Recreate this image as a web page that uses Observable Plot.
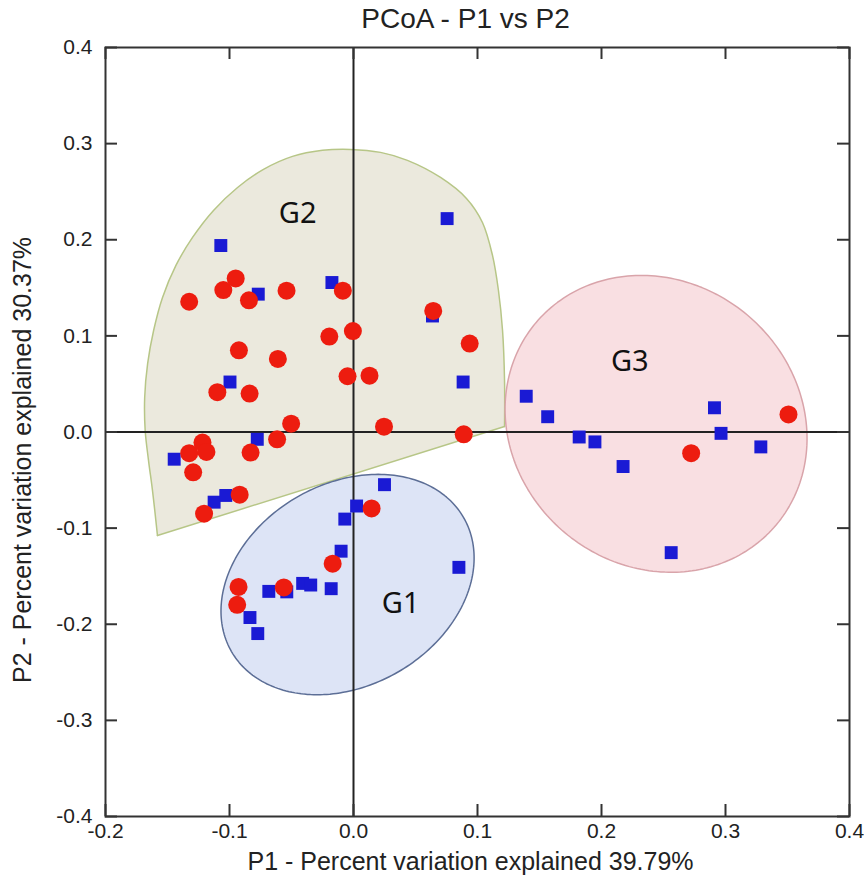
<!DOCTYPE html>
<html>
<head>
<meta charset="utf-8">
<script src="https://cdn.jsdelivr.net/npm/d3@7"></script>
<script src="https://cdn.jsdelivr.net/npm/@observablehq/plot@0.6"></script>
<style>
  html, body { margin: 0; padding: 0; background: #fff; }
  #chart svg { display: block; }
</style>
</head>
<body>
<div id="chart"></div>
<script>
// ---- Data ----
const blueX = [-0.107, 0.0755, -0.0768, -0.0174, 0.0637, 0.0884, -0.0996, -0.0776, -0.1446, -0.1124, -0.103,
               0.0250, 0.0025, -0.0070, -0.0100, 0.0850, -0.0410, -0.0345, -0.0180, -0.0683, -0.0538, -0.0835, -0.0772,
               0.1393, 0.1566, 0.1820, 0.1947, 0.2174, 0.2911, 0.2964, 0.3285, 0.2562];
const blueY = [0.194, 0.222, 0.1434, 0.1555, 0.1207, 0.052, 0.052, -0.0076, -0.0283, -0.073, -0.066,
               -0.0548, -0.0770, -0.0906, -0.1240, -0.1408, -0.1575, -0.1592, -0.1630, -0.1658, -0.1663, -0.1930, -0.2097,
               0.0372, 0.0159, -0.0052, -0.0103, -0.0359, 0.0252, -0.0014, -0.0155, -0.1255];
const redX = [-0.1325, -0.105, -0.095, -0.0843, -0.054, -0.0086, 0.0643, -0.0195, -0.0005, 0.0937,
              -0.0924, -0.061, -0.0048, 0.0129, -0.1098, -0.0838, -0.0503, 0.0246, 0.0889, -0.0616,
              -0.1325, -0.1218, -0.1186, -0.083, -0.1293, -0.0918, -0.1205, 0.0146, -0.0168, -0.0562,
              -0.0927, -0.0938, 0.2723, 0.3508];
const redY = [0.1355, 0.1476, 0.1597, 0.137, 0.147, 0.147, 0.126, 0.0993, 0.105, 0.092,
              0.085, 0.076, 0.058, 0.0586, 0.0414, 0.040, 0.0086, 0.0055, -0.0024, -0.0076,
              -0.022, -0.011, -0.0207, -0.0214, -0.042, -0.0652, -0.085, -0.0795, -0.137, -0.1617,
              -0.1612, -0.1798, -0.022, 0.0183];

const xTicks = [-0.2, -0.1, 0.0, 0.1, 0.2, 0.3, 0.4];
const xTickLabels = ["-0.2", "-0.1", "0.0", "0.1", "0.2", "0.3", "0.4"];
const yTicks = [-0.4, -0.3, -0.2, -0.1, 0.0, 0.1, 0.2, 0.3, 0.4];
const yTickLabels = ["-0.4", "-0.3", "-0.2", "-0.1", "0.0", "0.1", "0.2", "0.3", "0.4"];

// G2 hull outline (curved part, from bottom-left corner to right tip); closed by a straight chord
const g2OutlineX = [-0.1581, -0.1621, -0.1653, -0.1680, -0.1684, -0.1660, -0.1612, -0.1540, -0.1432, -0.1298,
                    -0.1129, -0.0935, -0.0726, -0.0492, -0.0250, -0.0024, 0.0218, 0.0435, 0.0702, 0.0911,
                    0.1040, 0.1121, 0.1169, 0.1202, 0.1218, 0.1218];
const g2OutlineY = [-0.1077, -0.0609, -0.0297, 0.0016, 0.0359, 0.0713, 0.1056, 0.1400, 0.1733, 0.2024,
                    0.2305, 0.2544, 0.2732, 0.2867, 0.2930, 0.2940, 0.2909, 0.2826, 0.2648, 0.2430,
                    0.2180, 0.1837, 0.1472, 0.1056, 0.0536, 0.0057];

// Ellipses: center and two conjugate half-axis vectors (data units)
const g1Center = [-0.0048, -0.1587];
const g1AxisU = [0.0936, 0.0697];
const g1AxisV = [-0.0407, 0.0910];
const g3Center = [0.2440, 0.0085];
const g3AxisU = [0.0970, -0.1050];
const g3AxisV = [0.0736, 0.1132];

const groupNames = ["G1", "G2", "G3"];
const groupLabelX = [0.038, -0.045, 0.2228];
const groupLabelY = [-0.179, 0.227, 0.0726];

const titleText = "PCoA - P1 vs P2";
const xTitle = "P1 - Percent variation explained 39.79%";
const yTitle = "P2 - Percent variation explained 30.37%";

// ---- Build tables ----
const blue = blueX.map((x, i) => ({x, y: blueY[i]}));
const red = redX.map((x, i) => ({x, y: redY[i]}));
const g2 = g2OutlineX.map((x, i) => ({x, y: g2OutlineY[i]}));
const g2Chord = [g2[0], g2[g2.length - 1]];
const labels = groupNames.map((t, i) => ({t, x: groupLabelX[i], y: groupLabelY[i]}));

function ellipsePts(c, u, v, n = 240) {
  return d3.range(n).map(i => {
    const t = 2 * Math.PI * i / n;
    return {x: c[0] + u[0] * Math.cos(t) + v[0] * Math.sin(t),
            y: c[1] + u[1] * Math.cos(t) + v[1] * Math.sin(t)};
  });
}
const g1 = ellipsePts(g1Center, g1AxisU, g1AxisV);
const g3 = ellipsePts(g3Center, g3AxisU, g3AxisV);

const W = 864, H = 882, ML = 105, MR = 15, MT = 47, MB = 66;
const PW = W - ML - MR, PH = H - MT - MB;
const TICK = 12;
const font = "'Liberation Sans', Arial, Helvetica, sans-serif";
const axisColor = "#333";

const chart = Plot.plot({
  width: W, height: H,
  marginLeft: ML, marginRight: MR, marginTop: MT, marginBottom: MB,
  x: {domain: [-0.2, 0.4]},
  y: {domain: [-0.4, 0.4]},
  style: {fontFamily: font, background: "#fff", color: "#222"},
  marks: [
    // group regions
    Plot.line(g2, {x: "x", y: "y", curve: "catmull-rom", fill: "#ebe9dd", stroke: "#b7c687", strokeWidth: 1.5}),
    Plot.line(g2Chord, {x: "x", y: "y", stroke: "#b7c687", strokeWidth: 1.5}),
    Plot.line(g1, {x: "x", y: "y", curve: "linear-closed", fill: "#dde4f6", stroke: "#5c6e96", strokeWidth: 1.5}),
    Plot.line(g3, {x: "x", y: "y", curve: "linear-closed", fill: "#f9dfe2", stroke: "#d9a4aa", strokeWidth: 1.5}),
    // zero lines
    Plot.ruleX([0], {stroke: "#222", strokeWidth: 2}),
    Plot.ruleY([0], {stroke: "#222", strokeWidth: 2}),
    // points
    Plot.dot(blue, {x: "x", y: "y", symbol: "square", r: 7.3, fill: "#1a1ad4", stroke: "none"}),
    Plot.dot(red, {x: "x", y: "y", r: 9, fill: "#ed1c0f", stroke: "none"}),
    // group labels
    Plot.text(labels, {x: "x", y: "y", text: "t", fontSize: 29, fill: "#111",
      fontFamily: "'Noto Sans', 'Open Sans', sans-serif"}),
    // frame and inward ticks
    Plot.frame({stroke: axisColor, strokeWidth: 2}),
    Plot.tickY(yTicks, {insetRight: PW - TICK, stroke: axisColor, strokeWidth: 2}),
    Plot.tickY(yTicks, {insetLeft: PW - TICK, stroke: axisColor, strokeWidth: 2}),
    Plot.tickX(xTicks, {insetTop: PH - TICK, stroke: axisColor, strokeWidth: 2}),
    Plot.tickX(xTicks, {insetBottom: PH - TICK, stroke: axisColor, strokeWidth: 2}),
    // tick labels
    Plot.axisX(xTicks, {tickSize: 0, tickPadding: 7, fontSize: 21, label: null,
      tickFormat: d => xTickLabels[xTicks.indexOf(d)]}),
    Plot.axisY(yTicks, {tickSize: 0, tickPadding: 13, fontSize: 21, label: null,
      tickFormat: d => yTickLabels[yTicks.indexOf(d)]}),
    // titles
    Plot.text([titleText], {frameAnchor: "top", lineAnchor: "middle", dy: -28, dx: -12, fontSize: 28, fill: "#222"}),
    Plot.text([xTitle], {frameAnchor: "bottom", lineAnchor: "middle", dy: 45, dx: -7, fontSize: 25, fill: "#222"}),
    Plot.text([yTitle], {frameAnchor: "left", textAnchor: "middle", lineAnchor: "middle", dx: -83, dy: 28,
      rotate: -90, fontSize: 25, fill: "#222"})
  ]
});
document.getElementById("chart").appendChild(chart);
</script>
</body>
</html>
